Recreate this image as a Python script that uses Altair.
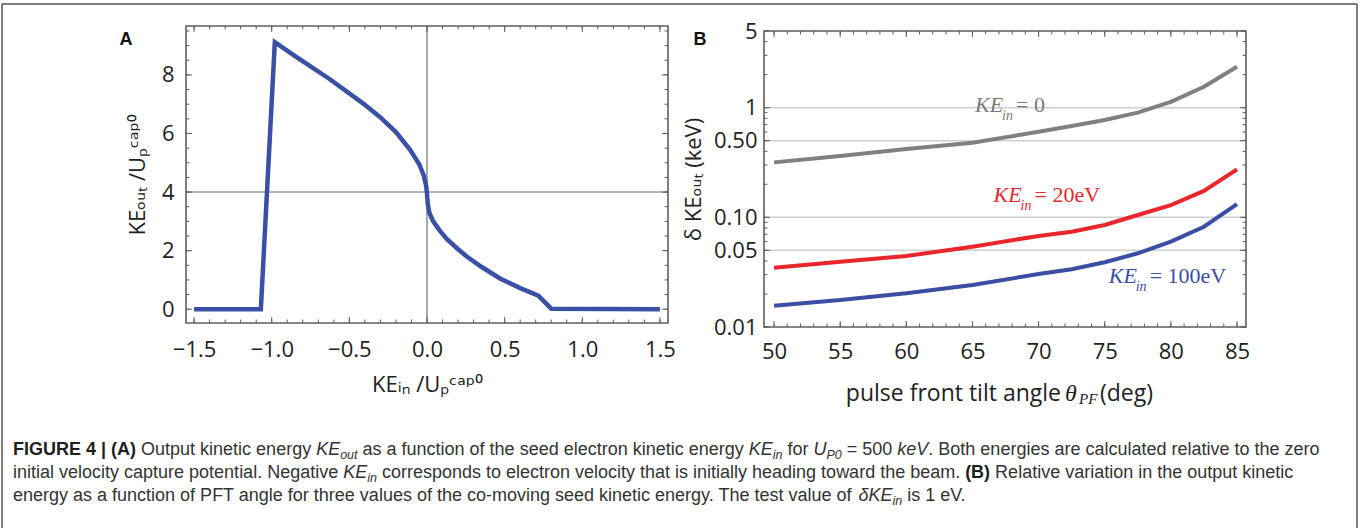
import altair as alt
import pandas as pd

# ---------------- data ----------------
# Panel A: KE_out / U_P^cap0 versus KE_in / U_P^cap0
a_ke_in = [-1.5, -1.07, -0.98, -0.84, -0.63, -0.41, -0.30, -0.20, -0.11, -0.05, -0.02, -0.005,
           0.0, 0.005, 0.015, 0.04, 0.08, 0.127, 0.20, 0.256, 0.35, 0.47, 0.60, 0.717, 0.80, 1.5]
a_ke_out = [0.0, 0.0, 9.12, 8.61, 7.87, 7.02, 6.55, 6.05, 5.45, 4.95, 4.55, 4.2,
            3.94, 3.6, 3.3, 3.0, 2.7, 2.4, 2.05, 1.8, 1.45, 1.05, 0.72, 0.46, 0.02, 0.0]

# Panel B: delta KE_out (keV) versus pulse-front-tilt angle (deg)
b_angle = [50, 55, 60, 65, 70, 72.5, 75, 77.5, 80, 82.5, 85]
b_ke0 = [0.317, 0.362, 0.420, 0.479, 0.603, 0.679, 0.771, 0.90, 1.13, 1.55, 2.36]
b_ke20 = [0.0347, 0.0394, 0.0444, 0.0540, 0.0676, 0.0739, 0.0851, 0.105, 0.129, 0.174, 0.274]
b_ke100 = [0.0156, 0.0176, 0.0203, 0.0242, 0.0304, 0.0336, 0.0389, 0.0470, 0.0600, 0.0821, 0.132]
b_series = ["0", "20eV", "100eV"]
b_colors = ["#808080", "#e8262b", "#3a4ea3"]

# tick values
a_xticks = [-1.5, -1.0, -0.5, 0.0, 0.5, 1.0, 1.5]
a_yticks = [0, 2, 4, 6, 8]
b_xticks = [50, 55, 60, 65, 70, 75, 80, 85]
b_yticks = [0.01, 0.05, 0.1, 0.5, 1, 5]
b_grid = [0.05, 0.1, 0.5, 1]
a_xminor = [round(-1.5 + 0.1 * i, 1) for i in range(31)]
a_yminor = [0.5 * i for i in range(20)]
b_xminor = list(range(50, 86))
b_yminor = [round(m * 10.0 ** e, 4) for e in (-2, -1) for m in range(1, 10)] + [1, 2, 3, 4, 5]

# caption: segments of (text, style) per line; r=regular, b=bold, i=italic, s=italic subscript
caption_lines = [
    [("FIGURE 4 | (A)", "b"), (" Output kinetic energy ", "r"), ("KE", "i"), ("out", "s"),
     (" as a function of the seed electron kinetic energy ", "r"), ("KE", "i"), ("in", "s"),
     (" for ", "r"), ("U", "i"), ("P0", "s"), (" = 500 ", "r"), ("keV", "i"),
     (". Both energies are calculated relative to the zero", "r")],
    [("initial velocity capture potential. Negative ", "r"), ("KE", "i"), ("in", "s"),
     (" corresponds to electron velocity that is initially heading toward the beam. ", "r"),
     ("(B)", "b"), (" Relative variation in the output kinetic", "r")],
    [("energy as a function of PFT angle for three values of the co-moving seed kinetic energy. The test value of ", "r"),
     ("\u03b4KE", "i"), ("in", "s"), (" is 1 eV.", "r")],
]

# ---------------- layout / style ----------------
W, H = 1360, 528
A_L, A_R, A_T, A_B = 186, 668, 26, 323
B_L, B_R, B_T, B_B = 764, 1246, 31, 327
A_XD = [-1.552, 1.552]
A_YD = [-0.47, 9.67]
B_XD = [49.24, 85.68]
B_YD = [0.01, 5]
FRAME = "#5e5e5e"
LABEL_FONT = "Open Sans, DejaVu Sans"
CAP_FONT = "Liberation Sans"
LBL = "#222222"
CAP = 18
SUB = 12.5

sxA = alt.Scale(domain=A_XD, range=[A_L, A_R], nice=False, zero=False)
syA = alt.Scale(domain=A_YD, range=[A_B, A_T], nice=False, zero=False)
sxB = alt.Scale(domain=B_XD, range=[B_L, B_R], nice=False, zero=False)
syB = alt.Scale(type="log", domain=B_YD, range=[B_B, B_T], nice=False)

common_axis = dict(domain=False, ticks=False, grid=False, labelFont=LABEL_FONT,
                   labelFontSize=22, labelColor=LBL, labelFlush=False, labelOverlap=False,
                   titleFont=LABEL_FONT, titleFontSize=22, titleFontWeight="normal", titleColor=LBL)

axA_x = alt.Axis(orient="bottom", offset=-(H - A_B), values=a_xticks, format=".1f",
                 labelPadding=16, title="KE\u1d62\u2099 /U\u209a\u1d9c\u1d43\u1d56\u2070", titlePadding=14,
                 **common_axis)
axA_y = alt.Axis(orient="left", offset=-A_L, values=a_yticks, format="d",
                 labelPadding=12, title="KE\u2092\u1d64\u209c /U\u209a\u1d9c\u1d43\u1d56\u2070", titlePadding=12,
                 **common_axis)
axB_x = alt.Axis(orient="bottom", offset=-(H - B_B), values=b_xticks, format="d",
                 labelPadding=14, title=None, **common_axis)
axB_y = alt.Axis(orient="left", offset=-B_L, values=b_yticks,
                 labelExpr="datum.value >= 1 ? format(datum.value, 'd') : format(datum.value, '.2f')",
                 labelPadding=7, title="\u03b4 KE\u2092\u1d64\u209c (keV)", titlePadding=8,
                 **common_axis)


def xA(f):
    return alt.X(f, type="quantitative", scale=sxA, axis=axA_x)


def yA(f):
    return alt.Y(f, type="quantitative", scale=syA, axis=axA_y)


def xB(f):
    return alt.X(f, type="quantitative", scale=sxB, axis=axB_x)


def yB(f):
    return alt.Y(f, type="quantitative", scale=syB, axis=axB_y)


def tick_layers(xenc, yenc, xvals, yvals, L, R, T, B, length):
    out = []
    dx = pd.DataFrame({"v": xvals})
    dy = pd.DataFrame({"v": yvals})
    rx = alt.Chart(dx).mark_rule(color=FRAME, strokeWidth=1)
    ry = alt.Chart(dy).mark_rule(color=FRAME, strokeWidth=1)
    out.append(rx.encode(x=xenc("v"), y=alt.value(B), y2=alt.value(B - length)))
    out.append(rx.encode(x=xenc("v"), y=alt.value(T), y2=alt.value(T + length)))
    out.append(ry.encode(y=yenc("v"), x=alt.value(L), x2=alt.value(L + length)))
    out.append(ry.encode(y=yenc("v"), x=alt.value(R), x2=alt.value(R - length)))
    return out


def frame(xenc, yenc, xd, yd):
    df = pd.DataFrame({"x0": [xd[0]], "x1": [xd[1]], "y0": [yd[0]], "y1": [yd[1]]})
    return alt.Chart(df).mark_rect(fill=None, stroke=FRAME, strokeWidth=1.6).encode(
        x=xenc("x0"), x2="x1", y=yenc("y0"), y2="y1")


def text_at(s, x, y, **kw):
    return alt.Chart(pd.DataFrame({"t": [s]})).mark_text(**kw).encode(
        x=alt.value(x), y=alt.value(y), text="t:N")


# Helvetica / Liberation Sans advance widths (per 1000 em) used to lay caption segments
_REG = {" ": 278, ".": 278, ",": 278, "|": 260, "(": 333, ")": 333, "=": 584, "-": 333,
        "\u03b4": 556}
for c, w in zip("abcdefghijklmnopqrstuvwxyz",
                [556, 556, 500, 556, 556, 278, 556, 556, 222, 222, 500, 222, 833, 556, 556, 556,
                 556, 333, 500, 278, 556, 500, 722, 500, 500, 500]):
    _REG[c] = w
for c, w in zip("ABCDEFGHIJKLMNOPQRSTUVWXYZ",
                [667, 667, 722, 722, 667, 611, 778, 722, 278, 500, 667, 556, 833, 722, 778, 667,
                 778, 722, 667, 611, 722, 667, 944, 667, 667, 611]):
    _REG[c] = w
for c in "0123456789":
    _REG[c] = 556
_BOLD = dict(_REG)
_BOLD.update({"A": 722, "B": 722, "R": 722, "U": 722, "|": 280, "(": 333, ")": 333})


def seg_width(s, style):
    table = _BOLD if style == "b" else _REG
    size = SUB if style == "s" else CAP
    return sum(table.get(c, 556) for c in s) * size / 1000.0


def caption_layers(lines, x0, y0, dy_line):
    out = []
    for li, segs in enumerate(lines):
        x = x0
        y = y0 + li * dy_line
        for s, st in segs:
            lead = len(s) - len(s.lstrip(" "))
            body = s.strip(" ")
            bx = x + seg_width(" " * lead, "r")
            kw = dict(font=CAP_FONT, align="left", baseline="alphabetic", fontSize=CAP, color="#333333")
            yy = y
            if st == "b":
                kw.update(fontWeight="bold", color="#1e1e1e")
            elif st == "i":
                kw.update(fontStyle="italic")
            elif st == "s":
                kw.update(fontStyle="italic", fontSize=SUB)
                yy = y + 4
            if body:
                out.append(text_at(body, round(bx, 2), yy, **kw))
            x += seg_width(s, st)
    return out


# ---------------- panel A ----------------
dfA = pd.DataFrame({"x": a_ke_in, "y": a_ke_out})
hline = alt.Chart(pd.DataFrame({"y": [4], "x0": [A_XD[0]], "x1": [A_XD[1]]})).mark_rule(
    color="#b4b4b4", strokeWidth=2).encode(x=xA("x0"), x2="x1", y=yA("y"))
vline = alt.Chart(pd.DataFrame({"x": [0.0], "y0": [A_YD[0]], "y1": [A_YD[1]]})).mark_rule(
    color="#8c8c8c", strokeWidth=1.5).encode(x=xA("x"), y=yA("y0"), y2="y1")
lineA = alt.Chart(dfA).mark_line(color="#3a50a6", strokeWidth=4.5, strokeJoin="miter").encode(
    x=xA("x"), y=yA("y"))
panelA = alt.layer(
    hline, vline, lineA,
    *tick_layers(xA, yA, a_xminor, a_yminor, A_L, A_R, A_T, A_B, 3.5),
    *tick_layers(xA, yA, a_xticks, a_yticks, A_L, A_R, A_T, A_B, 6),
    frame(xA, yA, A_XD, A_YD),
)

# ---------------- panel B ----------------
rows = []
for name, vals in zip(b_series, [b_ke0, b_ke20, b_ke100]):
    for a, v in zip(b_angle, vals):
        rows.append({"angle": a, "val": v, "series": name})
dfB = pd.DataFrame(rows)
gridB = alt.Chart(pd.DataFrame({"y": b_grid, "x0": B_XD[0], "x1": B_XD[1]})).mark_rule(
    color="#cfcfcf", strokeWidth=1.5).encode(x=xB("x0"), x2="x1", y=yB("y"))
linesB = alt.Chart(dfB).mark_line(strokeWidth=4).encode(
    x=xB("angle"), y=yB("val"),
    color=alt.Color("series:N", scale=alt.Scale(domain=b_series, range=b_colors), legend=None),
    detail="series:N")

ann = []
for (ax, av, col, rhs) in [(65.2, 1.06, "#7a7a7a", "= 0"),
                           (66.6, 0.160, "#e8262b", "= 20eV"),
                           (75.3, 0.0292, "#3a4ea3", "= 100eV")]:
    d = pd.DataFrame({"a": [ax], "v": [av]})
    base = alt.Chart(d)
    ann.append(base.mark_text(text="KE", font="Liberation Serif", fontStyle="italic", fontSize=22,
                              align="left", baseline="middle", color=col).encode(x=xB("a"), y=yB("v")))
    ann.append(base.mark_text(text="in", font="Liberation Serif", fontStyle="italic", fontSize=14,
                              align="left", baseline="middle", color=col, dx=27, dy=11).encode(x=xB("a"), y=yB("v")))
    ann.append(base.mark_text(text=rhs, font="Liberation Serif", fontSize=22,
                              align="left", baseline="middle", color=col, dx=41).encode(x=xB("a"), y=yB("v")))

panelB = alt.layer(
    gridB, linesB,
    *tick_layers(xB, yB, b_xminor, b_yminor, B_L, B_R, B_T, B_B, 3.5),
    *tick_layers(xB, yB, b_xticks, b_yticks, B_L, B_R, B_T, B_B, 6),
    frame(xB, yB, B_XD, B_YD),
    *ann,
)

# ---------------- free text ----------------
texts = [
    text_at("pulse front tilt angle", 1061, 394, font=LABEL_FONT, fontSize=23, align="right", color=LBL),
    text_at("\u03b8", 1065, 394, font="Liberation Serif", fontStyle="italic", fontSize=24, align="left", color=LBL),
    text_at("PF", 1079, 399, font="Liberation Serif", fontStyle="italic", fontSize=15, align="left", color=LBL),
    text_at("(deg)", 1100, 394, font=LABEL_FONT, fontSize=23, align="left", color=LBL),
    text_at("A", 126, 40, font="Liberation Sans", fontWeight="bold", fontSize=18, align="center", color="#111"),
    text_at("B", 700, 40, font="Liberation Sans", fontWeight="bold", fontSize=18, align="center", color="#111"),
] + caption_layers(caption_lines, 13, 455, 23)

border = [
    alt.Chart(pd.DataFrame({"k": [0]})).mark_rule(color="#555", strokeWidth=1.5).encode(
        x=alt.value(2), x2=alt.value(1357), y=alt.value(4)),
    alt.Chart(pd.DataFrame({"k": [0]})).mark_rule(color="#555", strokeWidth=1.5).encode(
        x=alt.value(2), y=alt.value(4), y2=alt.value(H)),
    alt.Chart(pd.DataFrame({"k": [0]})).mark_rule(color="#555", strokeWidth=1.5).encode(
        x=alt.value(1357), y=alt.value(4), y2=alt.value(H)),
]

chart = alt.layer(panelA, panelB, *texts, *border).resolve_scale(
    x="independent", y="independent", color="independent"
).properties(
    width=W, height=H, padding=0, autosize=alt.AutoSizeParams(type="none"), background="white"
).configure_view(stroke=None)

chart.save("out.html", embed_options={"renderer": "svg", "actions": False})
